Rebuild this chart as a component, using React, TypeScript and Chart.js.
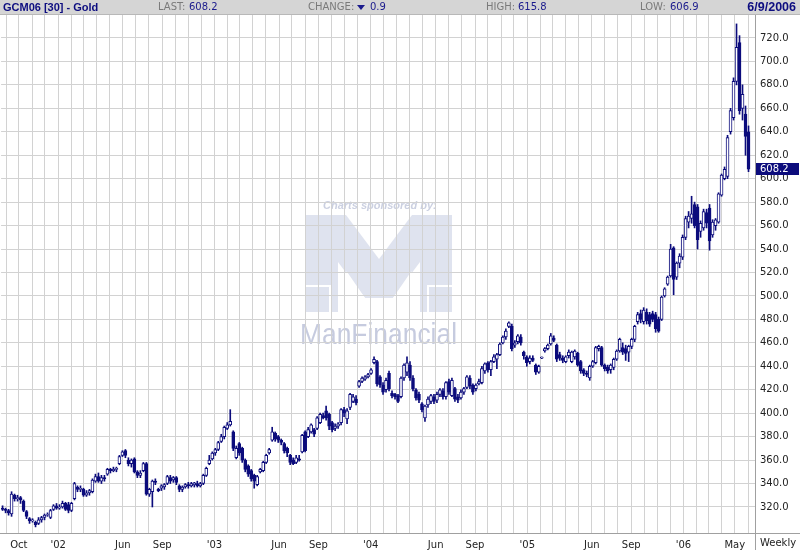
import React, { useEffect, useRef } from "react";
import { Chart, registerables } from "chart.js";

Chart.register(...registerables);

// ---- DATA (weekly OHLC, GCM06 gold futures) ----
const firstWeekEnding = "2001-08-24"; // candle 0, one candle per week
const opens = [
  319,318,317,314,330,327,328,325,316,310,
  308,307,306,309,311,313,311,318,321,319,
  320,323,322,317,327,337,335,335,330,332,
  333,342,346,342,345,348,352,351,352,357,
  364,368,360,357,361,350,347,351,357,331,
  333,342,335,336,337,340,345,343,345,338,
  335,337,339,338,339,340,338,340,347,357,
  361,366,369,376,380,387,390,384,362,374,
  370,360,355,351,347,339,350,351,358,366,
  377,383,380,377,374,370,364,360,358,361,
  367,384,380,384,386,387,392,398,402,399,
  392,387,389,392,403,395,405,410,412,423,
  427,429,431,434,443,444,431,424,420,434,
  417,416,415,414,430,435,441,430,420,416,
  408,396,407,410,414,411,416,419,414,427,
  415,421,414,413,418,422,430,424,421,425,
  426,436,443,437,444,446,450,460,465,474,
  474,458,461,465,452,448,444,447,441,435,
  447,453,455,459,464,458,450,447,444,449,
  444,448,451,444,437,434,430,440,443,455,
  456,441,439,437,439,446,453,456,455,452,
  457,463,478,485,478,486,484,485,484,480,
  480,500,510,517,541,516,528,533,550,563,
  566,578,576,555,558,571,575,552,560,563,
  586,600,602,640,652,683,716,660,655,640,
];
const closes = [
  318,317,315,331,327,328,326,317,312,308,
  309,305,309,311,313,313.5,317,321,319,320,
  323,318,317,323,340,335,336,330,332,334,
  343,346,342,345,344,352,351,352,353,363,
  367,364,357,360,350,347,349,357,331,335,
  342,341,334,338,339,346,342,345,341,335,
  337,339,338,340,340.5,338,340,347,353,360,
  366,369,375,380,388,390,393,370,370,366,
  360,352,348,344,342,346,352,358,364,369,
  384,378,377,375,368,366,358,357,362,360,
  381,368,386,390,382,396,399,396,396,389,
  386,389,391,403,400,402,416,414,409,427,
  430,431,433,437,446,425,424,418,428,421,
  415,414,410,430,441,443,430,421,413,411,
  403,406,412,415,410,416,420,414,426,418,
  428,412,411,418,421,431,423,418,424,427,
  438,442,437,444,448,450,459,465,470,477,
  455,460,466,460,449,443,447,445,435,440,
  447.8,455,458,466,462,446,447,445,448,452,
  452,453,441,436,434,433,440,444,456,457,
  441,438,436,441,446,453,463,452,451,457,
  463,474,484,480,488,479,476,480,472,470,
  499,506,516,540,514,528,534,550,566,568,
  570,560,548,562,572,562,547,563,565,587,
  603,608,635,658,683,712,658,672,636,608.2,
];
const highs = [
  321,319,318,333,331,330,329,326,317,311,
  310,308,311,312,314,315,318,322,323,322,
  325,324,324,324,341,338,338,336,334,335,
  344,348,349,347,347,353,353,354,354,364,
  368,369,362,361,362,351,351,358,358,336,
  343,344,336,339,340,347,347,346,346,339,
  338,340,341,341,341,342,341,348,354,364,
  367,370,376,382,389,392,403,385,372,375,
  371,361,356,352,348,347,353,359,365,370,
  388,384,381,378,375,371,365,362,364,364,
  382,385,388,391,387,397,400,400,406,400,
  393,391,392,404,405,404,417,416,415,428,
  431,432,434,438,448,445,432,426,430,436,
  419,417,416,431,442,448,444,432,421,418,
  409,407,414,416,416,418,421,421,427,429,
  430,422,416,420,422,432,432,425,425,429,
  440,443,444,445,450,451,460,466,472,478,
  476,462,467,467,453,449,449,449,442,441,
  448,456,459,468,466,459,452,449,449,454,
  453,454,452,445,438,436,441,445,457,458,
  457,442,441,442,447,454,464,460,458,458,
  464,475,486,488,490,489,486,487,486,482,
  500,507,517,544,542,529,536,552,568,572,
  585,580,578,564,574,574,578,565,566,588,
  604,610,637,660,686,732,722,680,662,645,
];
const lows = [
  317,315,313,312,325,325,323,316,310,306,
  307,303,305,307,309,312,310,317,318,318,
  319,317,315,316,326,333,333,329,329,330,
  332,341,341,340,342,347,349,350,350,356,
  363,362,355,354,349,345,345,350,330,329,
  320,339,333,334,335,339,340,341,339,333,
  333,336,336,337,337,337,337,339,346,356,
  360,364,368,375,378,386,389,368,361,364,
  358,350,346,342,336,338,349,350,357,365,
  376,376,375,373,366,363,356,356,357,359,
  366,367,379,383,380,386,391,395,394,386,
  384,385,387,390,397,391,403,409,407,422,
  426,428,430,433,442,423,422,416,418,419,
  413,412,409,413,428,432,428,419,411,409,
  401,393,405,408,408,409,414,412,412,416,
  414,410,409,412,416,421,421,416,419,424,
  425,434,435,432,443,438,449,459,463,473,
  453,456,459,458,446,440,442,444,433,434,
  446.5,452,454,458,461,444,445,443,443,447,
  443,446,440,434,432,431,428,439,442,453,
  440,436,434,434,437,445,452,450,445,444,
  455,461,476,477,476,476,474,478,469,469,
  479,499,509,516,501,514,524,531,548,558,
  562,558,540,550,556,558,539,550,556,562,
  585,599,600,638,650,680,655,650,620,606,
];
const priceTicks = [320,340,360,380,400,420,440,460,480,500,520,540,560,580,600,620,640,660,680,700,720];
const monthLabels: [string, string][] = [
  ["2001-10", "Oct"], ["2002-01", "'02"], ["2002-06", "Jun"], ["2002-09", "Sep"],
  ["2003-01", "'03"], ["2003-06", "Jun"], ["2003-09", "Sep"], ["2004-01", "'04"],
  ["2004-06", "Jun"], ["2004-09", "Sep"], ["2005-01", "'05"], ["2005-06", "Jun"],
  ["2005-09", "Sep"], ["2006-01", "'06"], ["2006-05", "May"],
];
const headerSymbol = "GCM06 [30] - Gold";
const headerLast = "608.2";
const headerChange = "0.9";
const headerHigh = "615.8";
const headerLow = "606.9";
const headerDate = "6/9/2006";
const lastPrice = 608.2;
const periodLabel = "Weekly";

// ---- STYLE ----
const NAVY = "#0c0c7c";
const GRID = "#d2d2d2";
const AXIS_FONT = "'DejaVu Sans', Verdana, sans-serif";
const X_MIN = -0.5;
const X_MAX = -0.5 + 755 / 3;

function monthTicks() {
  const [fy, fm, fd] = firstWeekEnding.split("-").map(Number);
  const t0 = Date.UTC(fy, fm - 1, fd);
  const labelMap = new Map(monthLabels);
  const out: { value: number; label: string }[] = [];
  for (let y = 2001; y <= 2006; y++) {
    for (let m = 0; m < 12; m++) {
      const v = (Date.UTC(y, m, 1) - t0) / (7 * 864e5);
      if (v < X_MIN || v > X_MAX) continue;
      const key = `${y}-${String(m + 1).padStart(2, "0")}`;
      out.push({ value: v, label: labelMap.get(key) || "" });
    }
  }
  return out;
}

const decorPlugin = {
  id: "decor",
  beforeDraw(chart: any) {
    const ctx = chart.ctx as CanvasRenderingContext2D;
    ctx.save();
    ctx.fillStyle = "#ffffff";
    ctx.fillRect(0, 0, chart.width, chart.height);
    // header bar
    ctx.fillStyle = "#d5d5d5";
    ctx.fillRect(0, 0, chart.width, 14);
    ctx.fillStyle = "#b8b8b8";
    ctx.fillRect(0, 14, chart.width, 1);
    ctx.textBaseline = "middle";
    ctx.textAlign = "left";
    ctx.font = "bold 11px 'Liberation Sans', Arial, sans-serif";
    ctx.fillStyle = "#0d0d80";
    ctx.fillText(headerSymbol, 3, 7.5);
    const pair = (lab: string, val: string, x: number, gap: number) => {
      ctx.font = `10px ${AXIS_FONT}`;
      ctx.fillStyle = "#7a7a7a";
      ctx.fillText(lab, x, 7.5);
      ctx.fillStyle = "#1a1a8c";
      ctx.fillText(val, x + gap, 7.5);
    };
    pair("LAST:", headerLast, 158, 31);
    pair("CHANGE:", "", 308, 0);
    ctx.fillStyle = "#1a1a8c";
    ctx.beginPath();
    ctx.moveTo(357, 5);
    ctx.lineTo(365, 5);
    ctx.lineTo(361, 10);
    ctx.closePath();
    ctx.fill();
    ctx.font = `10px ${AXIS_FONT}`;
    ctx.fillText(headerChange, 370, 7.5);
    pair("HIGH:", headerHigh, 486, 32);
    pair("LOW:", headerLow, 640, 30);
    ctx.font = "bold 12.5px 'Liberation Sans', Arial, sans-serif";
    ctx.fillStyle = "#0d0d80";
    ctx.textAlign = "right";
    ctx.fillText(headerDate, 796, 7.5);

    // watermark
    ctx.textAlign = "left";
    ctx.textBaseline = "alphabetic";
    ctx.fillStyle = "#cbd0e1";
    ctx.font = "italic bold 11px 'Liberation Sans', Arial, sans-serif";
    ctx.fillText("Charts sponsored by:", 323, 209);
    ctx.fillStyle = "#dfe3ef";
    ctx.beginPath();
    const pts = [[306,215],[346,215],[379,259],[412,215],[452,215],[452,312],[420,312],[420,262],[393,298],[365,298],[338,262],[338,312],[306,312]];
    pts.forEach(([x, y], i) => (i ? ctx.lineTo(x, y) : ctx.moveTo(x, y)));
    ctx.closePath();
    ctx.fill();
    ctx.strokeStyle = "#ffffff";
    ctx.lineWidth = 2;
    ctx.beginPath();
    ctx.moveTo(306, 286); ctx.lineTo(330, 286); ctx.lineTo(330, 312);
    ctx.moveTo(452, 286); ctx.lineTo(428, 286); ctx.lineTo(428, 312);
    ctx.moveTo(346, 272); ctx.lineTo(368, 304); ctx.lineTo(390, 304); ctx.lineTo(412, 272);
    ctx.stroke();
    ctx.save();
    ctx.translate(300, 344);
    ctx.scale(0.88, 1);
    ctx.fillStyle = "#c6cbdf";
    ctx.font = "30px 'Liberation Sans', Arial, sans-serif";
    ctx.fillText("ManFinancial", 0, 0);
    ctx.restore();
    ctx.restore();
  },
  afterDraw(chart: any) {
    const ctx = chart.ctx as CanvasRenderingContext2D;
    const y = chart.scales.y;
    const area = chart.chartArea;
    ctx.save();
    ctx.fillStyle = "#a0a0a0";
    ctx.fillRect(0, area.bottom, chart.width, 1);
    ctx.fillRect(area.right, area.top, 1, chart.height - area.top);
    const py = Math.round(y.getPixelForValue(lastPrice));
    ctx.fillStyle = NAVY;
    ctx.fillRect(area.right + 1, py - 6, chart.width - area.right - 2, 12);
    ctx.fillStyle = "#ffffff";
    ctx.font = `10px ${AXIS_FONT}`;
    ctx.textBaseline = "middle";
    ctx.textAlign = "left";
    ctx.fillText(lastPrice.toFixed(1), area.right + 5, py + 0.5);
    ctx.fillStyle = "#222";
    ctx.fillText(periodLabel, area.right + 5, 543.5);
    ctx.restore();
  },
};

export default function App() {
  const ref = useRef<HTMLCanvasElement | null>(null);
  useEffect(() => {
    if (!ref.current) return;
    const idx = opens.map((_, i) => i);
    const ticksX = monthTicks();
    const chart = new Chart(ref.current, {
      type: "bar",
      data: {
        datasets: [
          {
            label: "Range",
            data: idx.map((i) => ({ x: i, y: [lows[i], highs[i]] })) as any,
            backgroundColor: NAVY,
            borderWidth: 0,
            barThickness: 1,
            grouped: false,
            order: 2,
          } as any,
          {
            label: "Open/Close",
            data: idx.map((i) => ({ x: i, y: [Math.min(opens[i], closes[i]), Math.max(opens[i], closes[i])] })) as any,
            backgroundColor: idx.map((i) => (closes[i] >= opens[i] ? "#ffffff" : NAVY)),
            borderColor: NAVY,
            borderWidth: 1,
            borderSkipped: false,
            barThickness: 3,
            grouped: false,
            order: 1,
          } as any,
        ],
      },
      options: {
        animation: false,
        responsive: false,
        maintainAspectRatio: false,
        layout: { padding: { top: 15, left: 0, right: 0, bottom: 0 } },
        plugins: { legend: { display: false }, tooltip: { enabled: false } },
        scales: {
          x: {
            type: "linear",
            min: X_MIN,
            max: X_MAX,
            offset: false,
            afterBuildTicks: (s: any) => {
              s.ticks = ticksX.map((t) => ({ value: t.value }));
            },
            afterFit: (s: any) => {
              s.height = 17;
            },
            grid: { color: GRID, offset: false, drawTicks: false },
            border: { color: "#a0a0a0" },
            ticks: {
              autoSkip: false,
              maxRotation: 0,
              minRotation: 0,
              padding: 6,
              color: "#222",
              font: { family: AXIS_FONT, size: 10 },
              callback: (_v: any, i: number) => ticksX[i]?.label ?? "",
            },
          },
          y: {
            type: "linear",
            position: "right",
            min: 297.8,
            max: 739.6,
            afterBuildTicks: (s: any) => {
              s.ticks = priceTicks.map((v) => ({ value: v }));
            },
            afterFit: (s: any) => {
              s.width = 45;
            },
            grid: { color: GRID, drawTicks: false },
            border: { color: "#a0a0a0" },
            ticks: {
              padding: 5,
              color: "#222",
              font: { family: AXIS_FONT, size: 10 },
              callback: (v: any) => Number(v).toFixed(1),
            },
          },
        },
      } as any,
      plugins: [decorPlugin],
    });
    return () => chart.destroy();
  }, []);
  return (
    <div style={{ position: "fixed", left: 0, top: 0, width: 800, height: 550 }}>
      <canvas ref={ref} width={800} height={550} style={{ display: "block" }} />
    </div>
  );
}
